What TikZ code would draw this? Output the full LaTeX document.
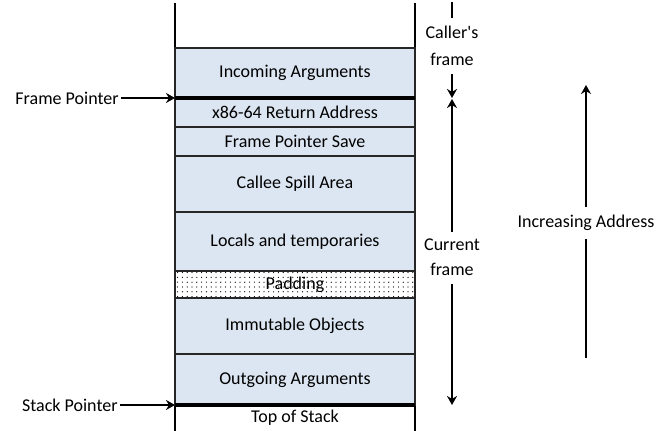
\documentclass[tikz,border=0pt]{standalone}
\usepackage{fontspec}
\setmainfont{Carlito}
\usetikzlibrary{arrows.meta,patterns.meta}
\definecolor{slotfill}{RGB}{220,230,242}
\begin{document}
\begin{tikzpicture}[x=0.5pt,y=-0.5pt,
  font=\fontsize{9}{13}\selectfont,
  slot/.style={draw=black!85, line width=0.6pt, fill=slotfill,
    minimum width=120pt, inner sep=0pt, outer sep=0pt, anchor=north west},
  wall/.style={line width=1.3pt},
  divider/.style={line width=1.6pt},
  ptr/.style={line width=1pt, -{Stealth[length=4.5pt,width=5pt]}},
  rail/.style={line width=1.1pt},
  tag/.style={inner sep=1pt, align=center}]
\useasboundingbox (0,0) rectangle (669,431);

% stack walls
\coordinate (lwtop) at (175,3);
\coordinate (lwbot) at (175,431);
\coordinate (rwtop) at (415,3);
\coordinate (rwbot) at (415,431);
\draw[wall] (lwtop) -- (lwbot);
\draw[wall] (rwtop) -- (rwbot);

% stack slots, top to bottom
\node[slot, minimum height=25pt]   (incoming) at (175,48) {Incoming Arguments};
\node[slot, minimum height=14.5pt] (retaddr)  at (incoming.south west) {x86-64 Return Address};
\node[slot, minimum height=14.5pt] (fpsave)   at (retaddr.south west) {Frame Pointer Save};
\node[slot, minimum height=28pt]   (spill)    at (fpsave.south west) {Callee Spill Area};
\node[slot, minimum height=29.5pt] (locals)   at (spill.south west) {Locals and temporaries};
\node[slot, minimum height=13.5pt, fill=white,
      postaction={pattern={Dots[distance=2.4pt,radius=0.32pt]}, pattern color=black}]
                                   (padding)  at (locals.south west) {};
\node at (padding.center) {Padding};
\node[slot, minimum height=28pt]   (immut)    at (padding.south west) {Immutable Objects};
\node[slot, minimum height=25.5pt] (outgoing) at (immut.south west) {Outgoing Arguments};
\node (tos) at (295,418) {Top of Stack};

% frame boundaries
\draw[divider] (retaddr.north west) -- (retaddr.north east);
\draw[divider] (outgoing.south west) -- (outgoing.south east);

% pointers
\node[tag, anchor=east] (fp) at (121,98) {Frame Pointer};
\draw[ptr] (fp.east) -- (retaddr.north west);
\node[tag, anchor=east] (sp) at (120,405) {Stack Pointer};
\draw[ptr] (sp.east) -- (outgoing.south west);

% caller's frame extent
\node[tag, font=\fontsize{9}{13.5}\selectfont] (caller) at (452,46) {Caller\textquotesingle s\\frame};
\coordinate (calltop) at (452,2);
\coordinate (callbot) at (452,98);
\draw[rail] (calltop) -- ([yshift=3pt]caller.north);
\draw[ptr] ([yshift=-3pt]caller.south) -- (callbot);

% current frame extent
\node[tag, font=\fontsize{9}{12.5}\selectfont] (current) at (452,257) {Current\\frame};
\coordinate (curtop) at (452,99);
\coordinate (curbot) at (452,405);
\draw[ptr] ([yshift=2pt]current.north) -- (curtop);
\draw[ptr] ([yshift=-3pt]current.south) -- (curbot);

% address direction
\node[tag] (incr) at (586,223) {Increasing Address};
\coordinate (incrtop) at (586,85);
\coordinate (incrbot) at (586,358);
\draw[ptr] ([yshift=3pt]incr.north) -- (incrtop);
\draw[rail] ([yshift=-3pt]incr.south) -- (incrbot);
\end{tikzpicture}
\end{document}
